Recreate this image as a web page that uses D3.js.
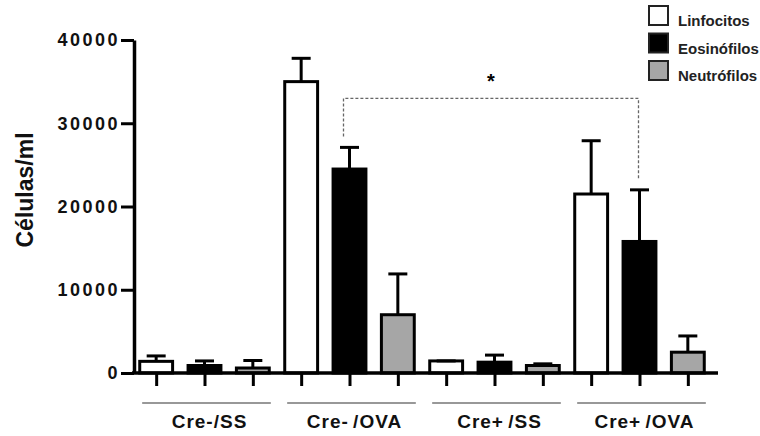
<!DOCTYPE html>
<html>
<head>
<meta charset="utf-8">
<script src="https://cdn.jsdelivr.net/npm/d3@7"></script>
<style>
  body { margin: 0; background: #fff; }
  svg { display: block; font-family: "Liberation Sans", Arial, sans-serif; }
</style>
</head>
<body>
<div id="chart"></div>
<script>
// groups along the x axis and the three cell types
const groups = ["Cre-/SS", "Cre- /OVA", "Cre+ /SS", "Cre+ /OVA"]
const series = ["Linfocitos", "Eosinófilos", "Neutrófilos"]
// mean values (cells/ml) per group
const linfocitos = [1400, 35000, 1450, 21500]
const eosinofilos = [900, 24500, 1300, 15800]
const neutrofilos = [600, 7000, 900, 2500]
// SEM (upper error bar only)
const linfocitosErr = [650, 2800, 0, 6400]
const eosinofilosErr = [550, 2600, 850, 6200]
const neutrofilosErr = [900, 4900, 200, 1950]
const yTicks = [0, 10000, 20000, 30000, 40000]
// significance bracket: Cre- /OVA vs Cre+ /OVA eosinophils
const bracket = { from: "Cre- /OVA", to: "Cre+ /OVA", serie: "Eosinófilos", top: 33000, label: "*" }

const colors = { "Linfocitos": "#ffffff", "Eosinófilos": "#000000", "Neutrófilos": "#a6a6a6" }
const values = { "Linfocitos": linfocitos, "Eosinófilos": eosinofilos, "Neutrófilos": neutrofilos }
const errors = { "Linfocitos": linfocitosErr, "Eosinófilos": eosinofilosErr, "Neutrófilos": neutrofilosErr }

const width = 760, height = 436
const svg = d3.select("#chart").append("svg")
    .attr("width", width)
    .attr("height", height)

svg.append("rect").attr("width", width).attr("height", height).attr("fill", "#fff")

// scales
const x0 = d3.scaleBand().domain(groups).range([132, 712]).padding(0)
const x1 = d3.scaleBand().domain(series).range([0, x0.bandwidth()]).paddingInner(0.32).paddingOuter(0.16)
const y = d3.scaleLinear().domain([0, 40000]).range([373, 40])

const cx = (g, s) => x0(g) + x1(s) + x1.bandwidth() / 2

// flatten data
const data = []
groups.forEach((g, i) => {
    series.forEach(s => {
        data.push({ group: g, serie: s, value: values[s][i], err: errors[s][i] })
    })
})

// bars
svg.append("g").selectAll("rect")
    .data(data)
    .join("rect")
    .attr("x", d => x0(d.group) + x1(d.serie))
    .attr("y", d => y(d.value))
    .attr("width", x1.bandwidth())
    .attr("height", d => y(0) - y(d.value))
    .attr("fill", d => colors[d.serie])
    .attr("stroke", "#000")
    .attr("stroke-width", 3)

// error bars (upper only)
const errG = svg.append("g").attr("stroke", "#000").attr("stroke-width", 3)
data.forEach(d => {
    const c = cx(d.group, d.serie)
    errG.append("line")
        .attr("x1", c).attr("x2", c)
        .attr("y1", y(d.value)).attr("y2", y(d.value + d.err))
    errG.append("line")
        .attr("x1", c - 9.5).attr("x2", c + 9.5)
        .attr("y1", y(d.value + d.err)).attr("y2", y(d.value + d.err))
})

// y axis
const yAxis = svg.append("g")
    .attr("transform", "translate(134,0)")
    .call(d3.axisLeft(y).tickValues(yTicks).tickFormat(d3.format("d")).tickSize(13).tickPadding(1).tickSizeOuter(0))
yAxis.select(".domain").attr("stroke", "#000").attr("stroke-width", 3.5)
yAxis.selectAll(".tick line").attr("stroke", "#000").attr("stroke-width", 3)
yAxis.selectAll(".tick text")
    .attr("fill", "#111")
    .style("font-size", "18px")
    .style("font-weight", "bold")
    .style("letter-spacing", "2.5px")
    .style("font-family", "'Liberation Sans', Arial, sans-serif")

// x axis: ticks under every bar
const xFlat = d3.scaleOrdinal()
    .domain(data.map(d => d.group + "|" + d.serie))
    .range(data.map(d => cx(d.group, d.serie)))
const xAxis = svg.append("g")
    .attr("transform", `translate(0,${y(0)})`)
    .call(d3.axisBottom(xFlat).tickSize(13).tickFormat(""))
xAxis.select(".domain").remove()
xAxis.selectAll(".tick line").attr("stroke", "#000").attr("stroke-width", 3)
svg.append("line")
    .attr("x1", 132).attr("x2", 718)
    .attr("y1", y(0)).attr("y2", y(0))
    .attr("stroke", "#000").attr("stroke-width", 3.5)

// group underlines and labels
groups.forEach(g => {
    const first = cx(g, series[0]), last = cx(g, series[series.length - 1])
    svg.append("line")
        .attr("x1", first - 14).attr("x2", last + 18)
        .attr("y1", 403).attr("y2", 403)
        .attr("stroke", "#333").attr("stroke-width", 1.2)
    svg.append("text")
        .attr("x", (first + last) / 2 + 5)
        .attr("y", 428)
        .attr("text-anchor", "middle")
        .style("font-size", "19px")
        .style("font-weight", "bold")
        .style("letter-spacing", "1px")
        .style("word-spacing", "-2px")
        .attr("fill", "#111")
        .text(g)
})

// y axis title
svg.append("text")
    .attr("transform", "translate(33,190) rotate(-90)")
    .attr("text-anchor", "middle")
    .style("font-size", "23px")
    .style("font-weight", "bold")
    .attr("fill", "#111")
    .text("Células/ml")

// significance bracket
const gi = groups.indexOf(bracket.from), gj = groups.indexOf(bracket.to)
const si = bracket.serie
const bx1 = cx(bracket.from, si) - 6, bx2 = cx(bracket.to, si) - 1
const by1 = y(values[si][gi] + errors[si][gi]) - 11
const by2 = y(values[si][gj] + errors[si][gj]) - 10
svg.append("path")
    .attr("d", `M${bx1},${by1}V${y(bracket.top)}H${bx2}V${by2}`)
    .attr("fill", "none")
    .attr("stroke", "#666")
    .attr("stroke-width", 1.3)
    .attr("stroke-dasharray", "3,2")
svg.append("text")
    .attr("x", (bx1 + bx2) / 2)
    .attr("y", y(bracket.top) - 10)
    .attr("text-anchor", "middle")
    .style("font-size", "20px")
    .style("font-weight", "bold")
    .text(bracket.label)

// legend
const legend = svg.append("g").attr("transform", "translate(649,6)")
series.forEach((s, i) => {
    const row = legend.append("g").attr("transform", `translate(0,${i * 27.5})`)
    row.append("rect")
        .attr("width", 19).attr("height", 19)
        .attr("fill", colors[s])
        .attr("stroke", "#222").attr("stroke-width", 2)
    row.append("text")
        .attr("x", 29).attr("y", 20)
        .style("font-size", "15px")
        .style("font-weight", "bold")
        .attr("fill", "#222")
        .text(s)
})
</script>
</body>
</html>
